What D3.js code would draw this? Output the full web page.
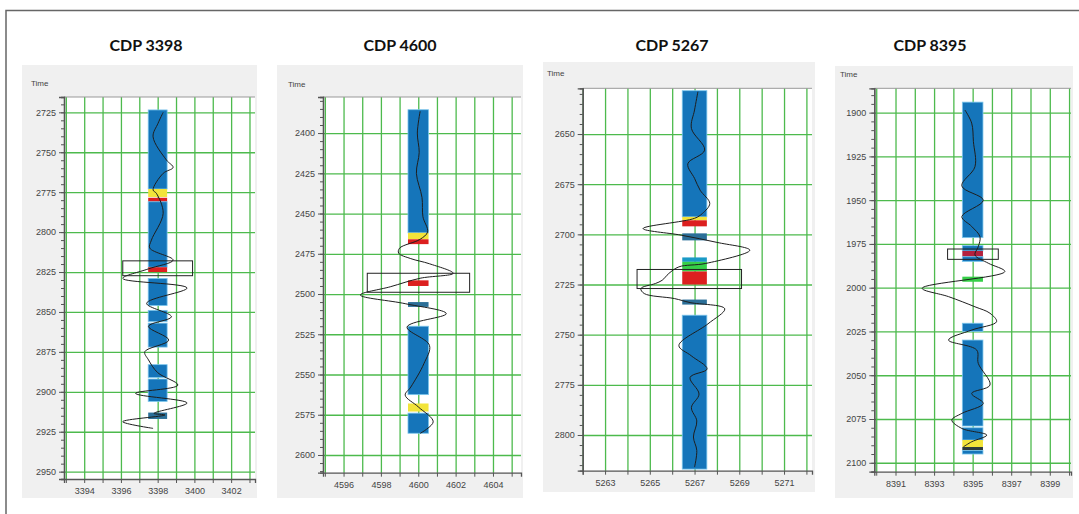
<!DOCTYPE html>
<html>
<head>
<meta charset="utf-8">
<script src="https://cdn.jsdelivr.net/npm/d3@7"></script>
<style>
  body { margin: 0; background: #fff; }
  svg { display: block; }
</style>
</head>
<body>
<div id="chart"></div>
<script>
const titles = ["CDP 3398", "CDP 4600", "CDP 5267", "CDP 8395"];
const cdps = [3398, 4600, 5267, 8395];
const cdpDomains = [[3392.9, 3403.3], [4594.9, 4605.5], [5262, 5272.25], [8389.9, 8400.1]];
const timeDomains = [[2715.4, 2954.6], [2377.6, 2611], [2627.2, 2817.8], [1886.1, 2105.1]];

const timeTicks = [
    [2725, 2750, 2775, 2800, 2825, 2850, 2875, 2900, 2925, 2950],
    [2400, 2425, 2450, 2475, 2500, 2525, 2550, 2575, 2600],
    [2650, 2675, 2700, 2725, 2750, 2775, 2800],
    [1900, 1925, 1950, 1975, 2000, 2025, 2050, 2075, 2100]
];
const cdpTicks = [
    [3394, 3396, 3398, 3400, 3402],
    [4596, 4598, 4600, 4602, 4604],
    [5263, 5265, 5267, 5269, 5271],
    [8391, 8393, 8395, 8397, 8399]
];

// log column width in CDP units
const columnWidths = [1.03, 1.1, 1.1, 1.07];

// [top time, bottom time, facies code]
const segments3398 = [
    [2723.5, 2773, "B"], [2773, 2778, "Y"], [2778.5, 2781, "R"], [2781, 2822, "B"],
    [2822, 2825, "R"], [2829, 2846, "B"], [2849, 2856, "B"], [2857, 2872, "B"],
    [2883, 2891, "B"], [2892, 2906, "B"], [2913, 2917, "S"]
];
const segments4600 = [
    [2385.5, 2462, "B"], [2462, 2466, "Y"], [2466, 2469, "R"], [2491.5, 2495, "R"],
    [2505, 2508, "S"], [2520, 2562.5, "B"], [2568, 2573, "Y"], [2574, 2586.5, "B"]
];
const segments5267 = [
    [2628.4, 2691.3, "B"], [2691.3, 2693, "Y"], [2693, 2696, "R"], [2699.5, 2703, "S"],
    [2711.5, 2713.7, "T"], [2713.7, 2718.5, "G"], [2718.5, 2725, "R"], [2732.5, 2735, "S"],
    [2740.3, 2817, "B"]
];
const segments8395 = [
    [1894, 1971.4, "B"], [1976, 1979, "B"], [1979, 1982.3, "C"], [1982.3, 1985, "B"],
    [1993.7, 1996.6, "G"], [2020.3, 2025, "B"], [2029.9, 2079, "B"], [2080, 2087, "B"],
    [2087, 2091, "Y"], [2091, 2093, "K"], [2093, 2095, "B"]
];
const segments = [segments3398, segments4600, segments5267, segments8395];

// wiggle traces: time and CDP position
const trace3398T = [2725, 2731.9, 2740.3, 2754.9, 2759.5, 2763.2, 2773.6, 2775.7, 2788.2, 2805, 2810, 2817.5,
    2823, 2829, 2835, 2844.6, 2853, 2859, 2867.6, 2874.9, 2880, 2888, 2895.8, 2901, 2907, 2913.5, 2914.5, 2918.7, 2922.9];
const trace3398X = [3398.3, 3398.02, 3397.75, 3398.48, 3398.84, 3398.3, 3397.75, 3397.93, 3398.3, 3397.66, 3397.57, 3398.84,
    3397.5, 3396.1, 3399.6, 3397.4, 3398.75, 3397.5, 3398.6, 3397.3, 3397.5, 3398.0, 3399.1, 3396.8, 3399.6, 3397.8, 3398.4, 3396.1, 3397.75];

const trace4600T = [2386.5, 2400, 2412, 2425, 2440, 2452, 2461.4, 2466, 2471.5, 2474.6, 2478, 2481.2, 2487.1,
    2490.2, 2495.5, 2500.6, 2506, 2512.2, 2520.5, 2531.9, 2543.3, 2557.8, 2562.8, 2570.1, 2579.4, 2586.6];
const trace4600X = [4600.1, 4599.95, 4600.05, 4599.9, 4600.2, 4600.25, 4600.5, 4600.1, 4599.0, 4598.95, 4599.6, 4600.6, 4601.87,
    4600.1, 4598.5, 4596.9, 4599.3, 4601.5, 4599.4, 4600.6, 4600.3, 4599.6, 4599.3, 4600.0, 4600.8, 4600.1];

const trace5267T = [2628.9, 2638, 2647.2, 2658, 2664.8, 2672.1, 2678, 2684.6, 2689.6, 2692, 2697.1, 2700.4, 2704,
    2707.9, 2714.5, 2716.2, 2719.5, 2722.9, 2724.5, 2727, 2729.5, 2732, 2734, 2737.1, 2744.6, 2755.4, 2760.5,
    2767.1, 2771.3, 2779.6, 2786.3, 2793, 2801, 2807.7, 2816];
const trace5267X = [5267.15, 5267.0, 5266.86, 5267.45, 5266.7, 5267.0, 5267.25, 5267.68, 5267.35, 5267.0, 5264.7, 5266.4, 5268.0,
    5269.47, 5267.5, 5266.3, 5265.85, 5265.55, 5265.25, 5264.6, 5264.75, 5266.1, 5266.8, 5268.35, 5267.6, 5266.3, 5266.85,
    5267.56, 5266.8, 5267.2, 5266.86, 5267.1, 5266.95, 5267.1, 5267.0];

const trace8395T = [1898.5, 1906, 1916.6, 1930.9, 1941.9, 1950, 1959.4, 1965, 1970.9, 1976.6, 1981.3, 1986, 1990.8,
    2000.3, 2005.1, 2010.9, 2014.6, 2019.4, 2024.2, 2029.9, 2035.6, 2043.2, 2055.6, 2060.4, 2066.1, 2071.8, 2075.6,
    2080.4, 2084.2, 2088, 2090.9];
const trace8395X = [8394.6, 8394.95, 8395.04, 8395.12, 8394.44, 8395.55, 8394.44, 8394.95, 8395.38, 8395.29, 8395.12, 8395.81, 8396.67,
    8392.38, 8393.75, 8395.12, 8395.9, 8396.24, 8394.95, 8393.75, 8395.21, 8395.29, 8395.9, 8394.95, 8395.55, 8394.44, 8393.92,
    8394.44, 8395.73, 8394.95, 8394.52];

const traceTimes = [trace3398T, trace4600T, trace5267T, trace8395T];
const traceCdps = [trace3398X, trace4600X, trace5267X, trace8395X];

// [cdp left, cdp right, time top, time bottom]
const boxes = [
    [3396.1, 3399.9, 2818, 2827.3],
    [4597.27, 4602.75, 2487.1, 2498.9],
    [5264.43, 5269.1, 2717.5, 2727],
    [8393.7, 8396.33, 1977.9, 1983.8]
];

const faciesColor = {
    B: "#1575ba", Y: "#f2e43a", R: "#dc1f1f", S: "#2b6f98",
    T: "#1a9ac6", G: "#36cf48", C: "#b3213e", K: "#2c3a3c"
};

// page layout: gray panel, plot box, labels
const layout = [
    { bg: [22, 65, 235, 433], plot: [64, 97, 255, 479], time: [31, 86], title: [146, 51] },
    { bg: [277, 65, 246, 433], plot: [323, 97, 521, 472.7], time: [288, 87], title: [400, 51] },
    { bg: [543, 62, 272, 430], plot: [582.7, 88.3, 812, 470.7], time: [547, 76], title: [672, 51] },
    { bg: [835, 66, 238, 432], plot: [874.3, 88.3, 1071, 471.7], time: [840, 77], title: [930, 51] }
];

const svg = d3.select("#chart").append("svg")
    .attr("width", 1079)
    .attr("height", 514);

// outer frame
svg.append("path")
    .attr("d", "M6,514 V10.5 H1079")
    .attr("fill", "none")
    .attr("stroke", "#666")
    .attr("stroke-width", 1.5);

function drawPanel(i) {
    const L = layout[i];
    const [left, top, right, bottom] = L.plot;
    const g = svg.append("g");

    g.append("rect")
        .attr("x", L.bg[0]).attr("y", L.bg[1])
        .attr("width", L.bg[2]).attr("height", L.bg[3])
        .attr("fill", "#f0f0f0");

    g.append("rect")
        .attr("x", left).attr("y", top)
        .attr("width", right - left).attr("height", bottom - top)
        .attr("fill", "#fff");

    const x = d3.scaleLinear().domain(cdpDomains[i]).range([left, right]);
    const y = d3.scaleLinear().domain(timeDomains[i]).range([top, bottom]);

    // grid
    const xd = cdpDomains[i];
    const cdpUnits = d3.range(Math.ceil(xd[0]), Math.floor(xd[1]) + 1);
    const gridV = g.append("g")
        .attr("transform", `translate(0,${bottom})`)
        .call(d3.axisBottom(x).tickValues(cdpUnits).tickSize(-(bottom - top)).tickFormat(""));
    const gridH = g.append("g")
        .attr("transform", `translate(${left},0)`)
        .call(d3.axisLeft(y).tickValues(timeTicks[i]).tickSize(-(right - left)).tickFormat(""));
    [gridV, gridH].forEach(gr => {
        gr.select(".domain").remove();
        gr.selectAll("line").attr("stroke", "#4dba4d").attr("stroke-width", 1.3);
    });

    g.append("line")
        .attr("x1", left).attr("x2", right)
        .attr("y1", top).attr("y2", top)
        .attr("stroke", "#999");

    // log column
    const half = columnWidths[i] / 2;
    g.selectAll(".seg")
        .data(segments[i])
        .enter()
        .append("rect")
        .attr("x", x(cdps[i] - half))
        .attr("width", x(cdps[i] + half) - x(cdps[i] - half))
        .attr("y", d => y(d[0]))
        .attr("height", d => y(d[1]) - y(d[0]))
        .attr("fill", d => faciesColor[d[2]])
        .attr("stroke", d => d[2] === "B" ? "#7cc6ec" : "none")
        .attr("stroke-width", 0.8);

    // trace
    const pts = traceTimes[i].map((t, k) => [traceCdps[i][k], t]);
    g.append("path")
        .datum(pts)
        .attr("fill", "none")
        .attr("stroke", "#1e1e1e")
        .attr("stroke-width", 1)
        .attr("d", d3.line().x(d => x(d[0])).y(d => y(d[1])).curve(d3.curveCatmullRom));

    // window box
    const b = boxes[i];
    g.append("rect")
        .attr("x", x(b[0])).attr("y", y(b[2]))
        .attr("width", x(b[1]) - x(b[0]))
        .attr("height", y(b[3]) - y(b[2]))
        .attr("fill", "none")
        .attr("stroke", "#222")
        .attr("stroke-width", 1);

    // axes
    const yd = timeDomains[i];
    const minor = d3.range(Math.ceil(yd[0] / 5) * 5, yd[1], 5);
    const yMinor = g.append("g")
        .attr("transform", `translate(${left},0)`)
        .call(d3.axisLeft(y).tickValues(minor).tickSize(3).tickFormat(""));
    const yAxis = g.append("g")
        .attr("transform", `translate(${left},0)`)
        .call(d3.axisLeft(y).tickValues(timeTicks[i]).tickSize(5).tickPadding(3).tickFormat(d3.format("d")));
    const xAxis = g.append("g")
        .attr("transform", `translate(0,${bottom})`)
        .call(d3.axisBottom(x).tickValues(cdpUnits).tickSize(4).tickPadding(5)
            .tickFormat(d => cdpTicks[i].includes(d) ? d : ""));
    [yMinor, yAxis, xAxis].forEach(ax => {
        ax.select(".domain").attr("stroke", "#555").attr("stroke-width", 1.3);
        ax.selectAll("line").attr("stroke", "#555");
        ax.selectAll("text")
            .style("font-family", "'Liberation Sans', Arial, sans-serif")
            .style("font-size", "9px")
            .attr("fill", "#444");
    });

    g.append("text")
        .attr("x", L.time[0]).attr("y", L.time[1])
        .style("font-family", "'Liberation Sans', Arial, sans-serif")
        .style("font-size", "8px")
        .attr("fill", "#444")
        .text("Time");

    g.append("text")
        .attr("x", L.title[0]).attr("y", L.title[1])
        .attr("text-anchor", "middle")
        .style("font-family", "Lato, 'Open Sans', sans-serif")
        .style("font-size", "16px")
        .style("font-weight", "bold")
        .attr("fill", "#111")
        .text(titles[i]);
}

titles.forEach((t, i) => drawPanel(i));
</script>
</body>
</html>
